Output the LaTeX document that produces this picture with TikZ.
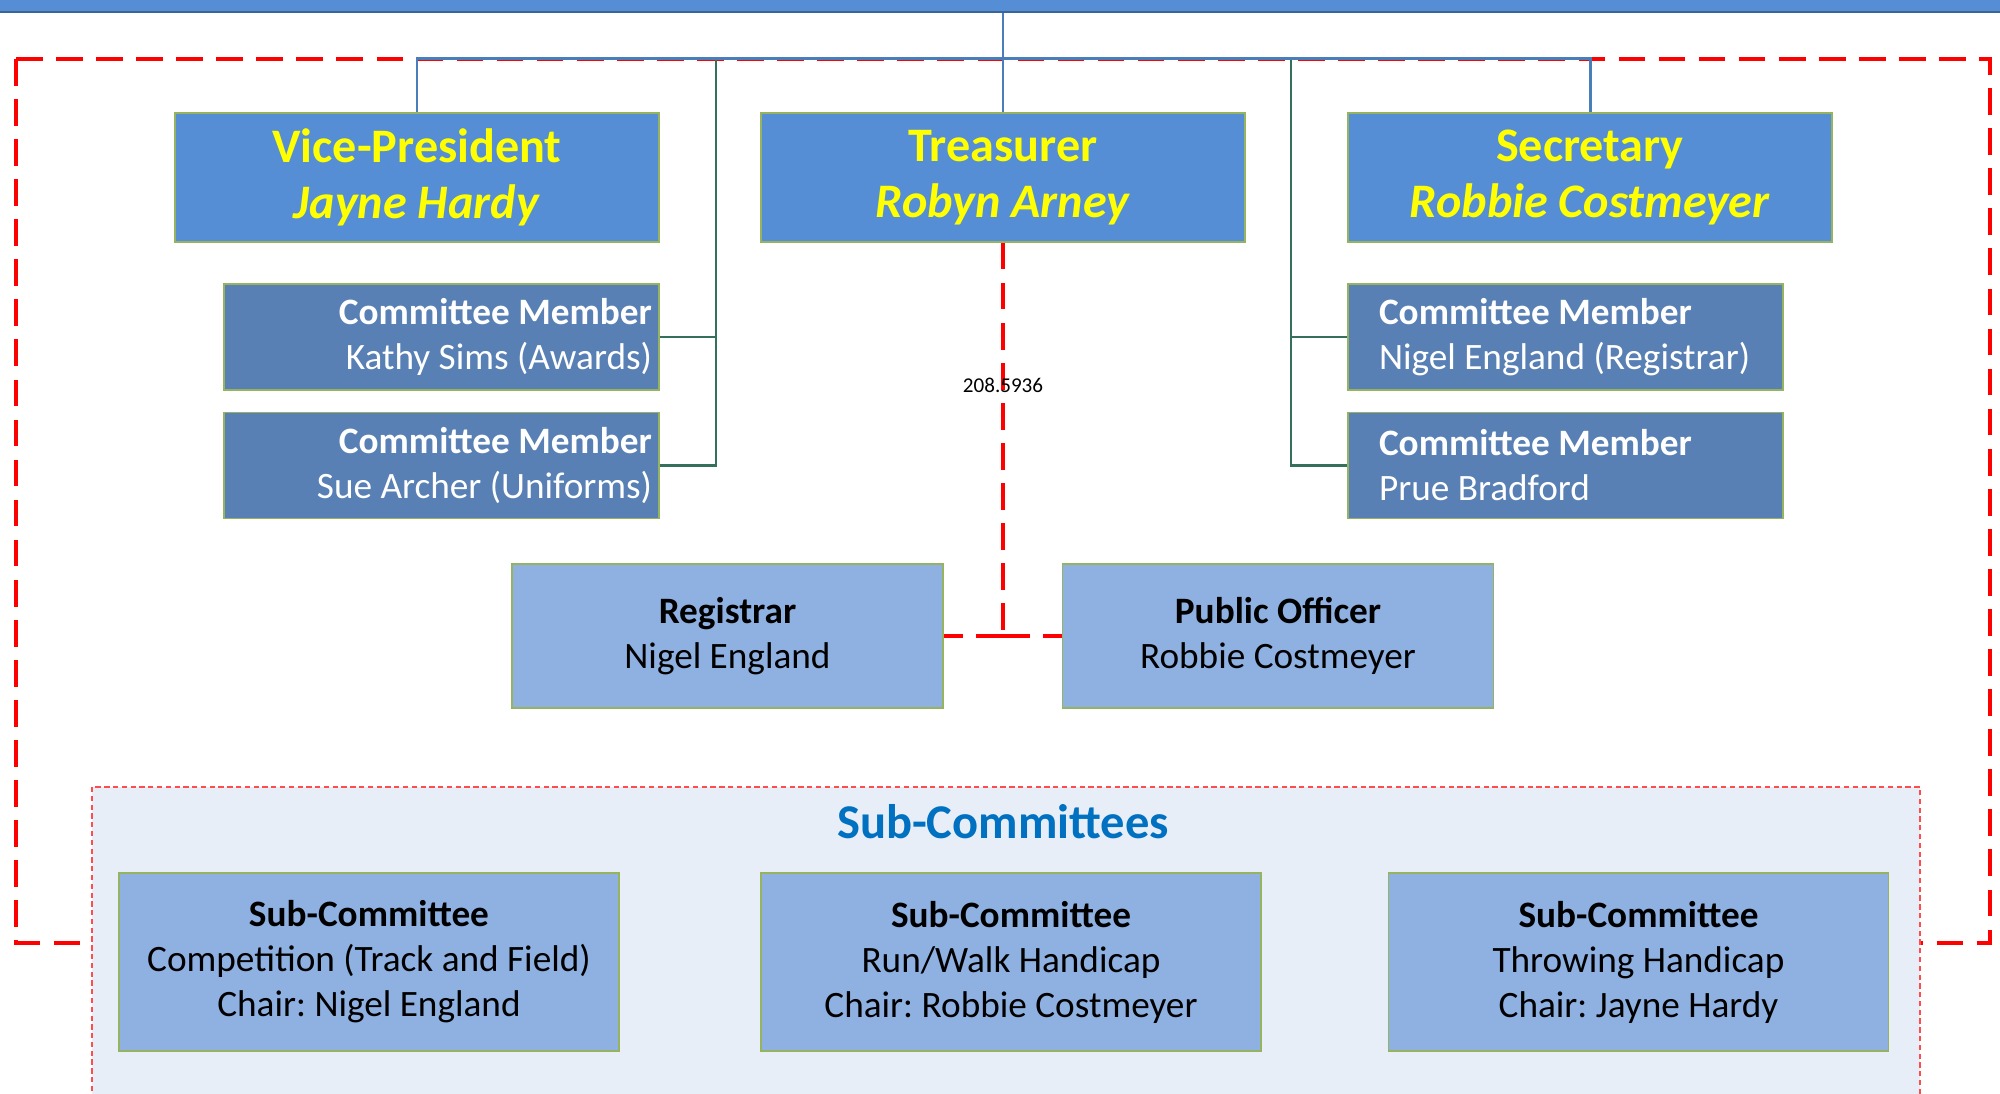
\documentclass[tikz,border=0pt]{standalone}
\usepackage{fontspec}
\setmainfont{Carlito}
\usepackage{xcolor}
\usepackage{tikz}
\usetikzlibrary{positioning}
\frenchspacing

\definecolor{officeblue}{RGB}{85,142,213}
\definecolor{memberblue}{RGB}{88,128,180}
\definecolor{roleblue}{RGB}{142,177,226}
\definecolor{areafill}{RGB}{232,238,248}
\definecolor{boxedge}{RGB}{150,180,95}
\definecolor{orgblue}{RGB}{74,126,187}
\definecolor{memgreen}{RGB}{52,112,92}
\definecolor{titleblue}{RGB}{0,112,192}
\definecolor{linkred}{RGB}{255,0,0}
\definecolor{officeyellow}{RGB}{255,255,0}

\begin{document}
\begin{tikzpicture}[x=0.1mm, y=-0.1mm,
    officer/.style={draw=boxedge, line width=0.4pt, fill=officeblue, minimum width=48.4mm, minimum height=12.9mm,
        inner sep=0pt, align=center, text=officeyellow, font=\fontsize{13.7}{15.9}\selectfont\bfseries},
    memleft/.style={draw=boxedge, line width=0.4pt, fill=memberblue, minimum height=10.6mm, inner xsep=0.7mm,
        text width=42.1mm, align=flush right, text=white, font=\fontsize{10.6}{12.8}\selectfont},
    memright/.style={memleft, inner xsep=3.1mm, text width=37.3mm, align=flush left},
    rolebox/.style={draw=boxedge, line width=0.4pt, fill=roleblue, minimum width=43.1mm, minimum height=14.4mm,
        inner sep=0pt, align=center, font=\fontsize{10.6}{12.8}\selectfont},
    subbox/.style={rolebox, minimum width=50mm, minimum height=17.8mm},
    orgline/.style={orgblue, line width=0.85pt},
    memline/.style={memgreen, line width=0.6pt},
    linkline/.style={linkred, line width=1pt, dash pattern=on 7.6pt off 3.8pt}]
    \useasboundingbox (0,0) rectangle (2000,1094);
    \clip (0,0) rectangle (2000,1094);

    % Committee frame
    \draw[linkline] (16,59) rectangle (1990,943);

    % Sub-committee area
    \node[draw=linkred!70, fill=areafill, line width=0.4pt, dash pattern=on 1.5pt off 1pt,
        minimum width=182.8mm, minimum height=33.3mm, inner sep=0pt] (subarea) at (1006,953.5) {};
    \node[text=titleblue, font=\fontsize{13.8}{16}\selectfont\bfseries] (subtitle) at (1003,822) {Sub-Committees};

    % President (cut off at the top)
    \node[draw=orgblue!80!black, fill=officeblue, line width=0.6pt, minimum width=200.6mm, minimum height=3.4mm,
        inner sep=0pt] (president) at (1000,-5) {};

    % Office bearers
    \node[officer] (vicepres) at (417,177.5) {Vice-President\\\textit{Jayne Hardy}};
    \node[officer] (treasurer) at (1003,177.5) {Treasurer\\\textit{Robyn Arney}};
    \node[officer] (secretary) at (1590,177.5) {Secretary\\\textit{Robbie Costmeyer}};

    % Committee members
    \node[memleft] (kathy) at (441.5,337) {\textbf{Committee Member}\\Kathy Sims (Awards)};
    \node[memleft] (sue) at (441.5,465.5) {\textbf{Committee Member}\\Sue Archer (Uniforms)};
    \node[memright] (nigel) at (1565.5,337) {\textbf{Committee Member}\\\mbox{Nigel England (Registrar)}};
    \node[memright] (prue) at (1565.5,465.5) {\textbf{Committee Member}\\Prue Bradford};

    % Registrar and public officer
    \node[rolebox] (registrar) at (727.5,636) {\textbf{Registrar}\\Nigel England};
    \node[rolebox] (pubofficer) at (1278,636) {\textbf{Public Officer}\\Robbie Costmeyer};

    % Sub-committees
    \node[subbox] (subcomp) at (369,962) {\textbf{Sub-Committee}\\Competition (Track and Field)\\Chair: Nigel England};
    \node[subbox] (subrun) at (1011,962) {\textbf{Sub-Committee}\\Run/Walk Handicap\\Chair: Robbie Costmeyer};
    \node[subbox] (subthrow) at (1638.5,962) {\textbf{Sub-Committee}\\Throwing Handicap\\Chair: Jayne Hardy};

    % Bus and branch points
    \coordinate (bus) at (1003,59);
    \coordinate (leftbranch) at (716,59);
    \coordinate (rightbranch) at (1291,59);

    % Member connectors
    \draw[memline] (bus) -- (leftbranch) |- (kathy.east);
    \draw[memline] (leftbranch) |- (sue.east);
    \draw[memline] (bus) -- (rightbranch) |- (nigel.west);
    \draw[memline] (rightbranch) |- (prue.west);

    % Officer connectors
    \draw[orgline] (treasurer.north |- president.south) -- (treasurer.north);
    \draw[orgline] (bus) -| (vicepres.north);
    \draw[orgline] (bus) -| (secretary.north);

    % Treasurer link to registrar and public officer
    \coordinate (linkjoin) at (treasurer.south |- registrar.east);
    \draw[linkline] (treasurer.south) -- (linkjoin);
    \draw[linkline] (linkjoin) -- (registrar.east);
    \draw[linkline] (linkjoin) -- (pubofficer.west);
    \node[font=\fontsize{6}{7}\selectfont] (linklabel) at (1003,385) {208.5936};
\end{tikzpicture}
\end{document}
